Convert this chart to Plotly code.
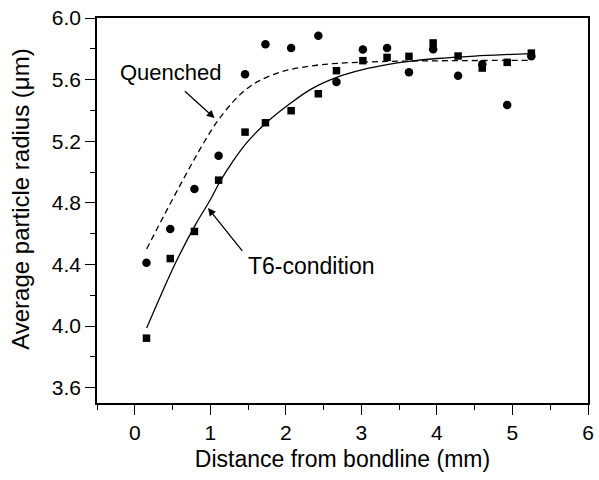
import plotly.graph_objects as go

# ---- data ----
distance = [0.155, 0.47, 0.79, 1.11, 1.46, 1.73, 2.07, 2.43, 2.67, 3.02,
            3.34, 3.63, 3.95, 4.28, 4.60, 4.93, 5.25]
quenched_r = [4.41, 4.63, 4.89, 5.105, 5.635, 5.83, 5.805, 5.885, 5.585, 5.795,
              5.805, 5.648, 5.797, 5.625, 5.700, 5.435, 5.752]
t6_r = [3.921, 4.438, 4.614, 4.947, 5.259, 5.320, 5.398, 5.508, 5.658, 5.723,
        5.744, 5.751, 5.838, 5.753, 5.675, 5.712, 5.772]

# fitted curves
t6_fit_x = [0.157, 0.35, 0.55, 0.80, 1.00, 1.12, 1.30, 1.50, 1.73, 2.03,
            2.34, 2.69, 3.03, 3.34, 3.63, 4.00, 4.50, 5.00, 5.25]
t6_fit_y = [3.987, 4.205, 4.42, 4.655, 4.82, 4.93, 5.07, 5.20, 5.315, 5.435,
            5.54, 5.618, 5.666, 5.697, 5.718, 5.737, 5.753, 5.764, 5.769]
q_fit_x = [0.157, 0.40, 0.64, 0.86, 1.08, 1.30, 1.47, 1.64, 1.95, 2.34,
           2.69, 3.34, 4.00, 4.60, 5.25]
q_fit_y = [4.50, 4.73, 4.95, 5.145, 5.32, 5.455, 5.535, 5.59, 5.652, 5.689,
           5.706, 5.718, 5.722, 5.724, 5.725]

y_ticks = [3.6, 4.0, 4.4, 4.8, 5.2, 5.6, 6.0]
x_ticks = [0, 1, 2, 3, 4, 5, 6]

FONT = "Liberation Sans, Arial, sans-serif"

fig = go.Figure()
fig.add_trace(go.Scatter(x=q_fit_x, y=q_fit_y, mode="lines", line_shape="spline",
                         line=dict(color="black", width=1.3, dash="6px,4px"),
                         hoverinfo="skip", showlegend=False))
fig.add_trace(go.Scatter(x=t6_fit_x, y=t6_fit_y, mode="lines", line_shape="spline",
                         line=dict(color="black", width=1.3),
                         hoverinfo="skip", showlegend=False))
fig.add_trace(go.Scatter(x=distance, y=quenched_r, mode="markers",
                         marker=dict(symbol="circle", size=8.5, color="black"),
                         showlegend=False))
fig.add_trace(go.Scatter(x=distance, y=t6_r, mode="markers",
                         marker=dict(symbol="square", size=7.5, color="black"),
                         showlegend=False))

# labels and arrows
fig.add_annotation(x=0.48, y=5.643, text="Quenched", showarrow=False,
                   font=dict(family=FONT, size=22, color="black"))
fig.add_annotation(x=1.057, y=5.35, ax=0.643, ay=5.533, axref="x", ayref="y",
                   text="", showarrow=True, arrowhead=2, arrowsize=1.2,
                   arrowwidth=1.3, arrowcolor="black", standoff=0)
fig.add_annotation(x=1.474, y=4.391, text="T6-condition", showarrow=False,
                   xanchor="left", font=dict(family=FONT, size=23, color="black"))
fig.add_annotation(x=0.969, y=4.766, ax=1.439, ay=4.478, axref="x", ayref="y",
                   text="", showarrow=True, arrowhead=2, arrowsize=1.2,
                   arrowwidth=1.3, arrowcolor="black", standoff=0)

# y-axis title
fig.add_annotation(xref="paper", yref="paper", x=-0.155, y=0.53,
                   text="Average particle radius (\u03bcm)", textangle=-90,
                   showarrow=False, xanchor="center", yanchor="middle",
                   font=dict(family=FONT, size=24, color="black"))

fig.update_xaxes(range=[-0.5, 6], tickvals=x_ticks, ticks="outside", ticklen=10,
                 tickwidth=1.3, tickcolor="black", showline=True, linecolor="black",
                 linewidth=1.5, mirror=True, showgrid=False, zeroline=False,
                 minor=dict(dtick=0.5, tick0=0, ticks="outside", ticklen=5,
                            tickwidth=1.3, tickcolor="black", showgrid=False),
                 tickfont=dict(family=FONT, size=21, color="black"),
                 title=dict(text="Distance from bondline (mm)",
                            font=dict(family=FONT, size=23, color="black"),
                            standoff=8))
fig.update_yaxes(range=[3.5, 6.0], tickvals=y_ticks, tickformat=".1f",
                 ticks="outside", ticklen=10, tickwidth=1.3, tickcolor="black",
                 showline=True, linecolor="black", linewidth=1.5, mirror=True,
                 showgrid=False, zeroline=False,
                 minor=dict(dtick=0.2, tick0=3.6, ticks="outside", ticklen=5,
                            tickwidth=1.3, tickcolor="black", showgrid=False),
                 tickfont=dict(family=FONT, size=21, color="black"))

fig.update_layout(width=599, height=480, plot_bgcolor="white", paper_bgcolor="white",
                  margin=dict(l=97, r=5, t=18, b=77), showlegend=False)

fig.write_html("out.html")
